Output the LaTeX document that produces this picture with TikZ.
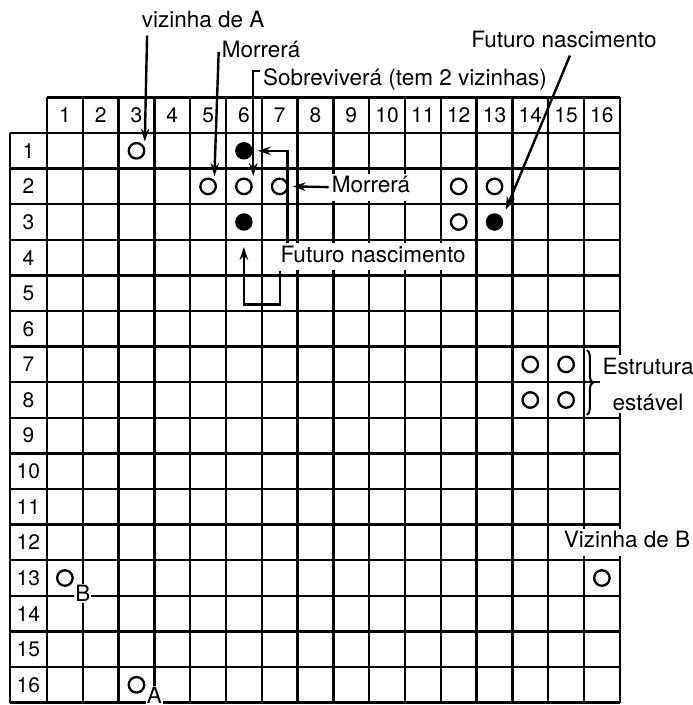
\documentclass[tikz,border=0pt]{standalone}
\usepackage{fontspec}
\setmainfont{TeX Gyre Heros}
\usetikzlibrary{arrows.meta, decorations.pathreplacing}

\tikzset{
  gridline/.style={line width=2.3pt},
  cellnum/.style={font=\fontsize{21}{24}\selectfont},
  note/.style={font=\fontsize{22.5}{36}\selectfont, fill=white,
               inner sep=3pt, text height=16pt, text depth=5pt},
  tag/.style={font=\fontsize{22.5}{24}\selectfont, fill=white, inner sep=1pt},
  alive/.style={draw, circle, line width=2.3pt, minimum size=15.5pt, inner sep=0pt},
  born/.style={fill, circle, minimum size=17.5pt, inner sep=0pt},
  arr/.style={->, line width=2.4pt},
  bracestyle/.style={decorate, decoration={brace, amplitude=6pt}, line width=2pt}
}

\begin{document}
\begin{tikzpicture}[x=35.8pt, y=-35.6pt, >={Stealth[length=13pt, width=8.5pt]}]
  \useasboundingbox (-1.3128,-3.7360) rectangle (18.0447,16.0674);

  % grid
  \foreach \i in {0,...,16}
    \draw[gridline] (\i,-1) -- (\i,16);
  \draw[gridline] (0,-1) -- (16,-1);
  \foreach \j in {0,...,16}
    \draw[gridline] (-1.035,\j) -- (16,\j);
  \draw[gridline] (-1.035,0) -- (-1.035,16);

  % column and row numbers
  \foreach \n in {1,...,16} {
    \node[cellnum] (col\n) at (\n-0.5,-0.5) {\n};
    \node[cellnum] (row\n) at (-0.52,\n-0.5) {\n};
  }

  % living cells (row/column)
  \foreach \r/\c in {1/3, 2/5, 2/6, 2/7, 2/12, 2/13, 3/12,
                     7/14, 7/15, 8/14, 8/15, 13/1, 13/16, 16/3}
    \node[alive] (c\r-\c) at (\c-0.5,\r-0.5) {};
  % cells to be born
  \foreach \r/\c in {1/6, 3/6, 3/13}
    \node[born] (d\r-\c) at (\c-0.5,\r-0.5) {};

  % texts
  \node[note] (vizA) at (4.36,-3.12) {vizinha de A};
  \node[note] (morr1) at (5.98,-2.28) {Morrerá};
  \node[note] (sobre) at (10.0,-1.49) {Sobreviverá (tem 2 vizinhas)};
  \node[note] (fut1) at (14.44,-2.56) {Futuro nascimento};
  \node[note] (morr2) at (9.05,1.52) {Morrerá};
  \node[note] (fut2) at (9.11,3.48) {Futuro nascimento};
  \node[note] (vizB) at (16.2,11.49) {Vizinha de B};
  \node[font=\fontsize{22.5}{36}\selectfont, fill=white, inner sep=3pt,
        align=center] (estavel) at (16.79,7.05) {Estrutura\\estável};
  \node[tag] (tagB) at (1,12.93) {B};
  \node[tag] (tagA) at (3,15.8) {A};

  % pointers
  \draw[arr] ([xshift=-56pt]vizA.south) -- ([shift={(2pt,3pt)}]c1-3.north east);
  \draw[arr] (morr1.west) -- ([yshift=4pt]c2-5.north east);
  \draw[arr] ([yshift=9pt]sobre.west) -| ([shift={(3pt,4pt)}]c2-6.north east);
  \draw[arr] ([xshift=10pt]fut2.north west) |- ([xshift=5pt]d1-6.east);
  \draw[arr] ([xshift=2.5pt]fut2.south west) -- ++(0,0.95)
             -| ([yshift=-16pt]d3-6.south);
  \draw[arr] (morr2.west) -- ([xshift=4pt]c2-7.east);
  \draw[arr] ([xshift=6pt]fut1.south) -- ([shift={(5pt,6pt)}]d3-13.north east);

  % stable block
  \coordinate (braceTop) at (15.08,6.1);
  \coordinate (braceBot) at (15.08,7.92);
  \draw[bracestyle] (braceTop) -- (braceBot);
\end{tikzpicture}
\end{document}
